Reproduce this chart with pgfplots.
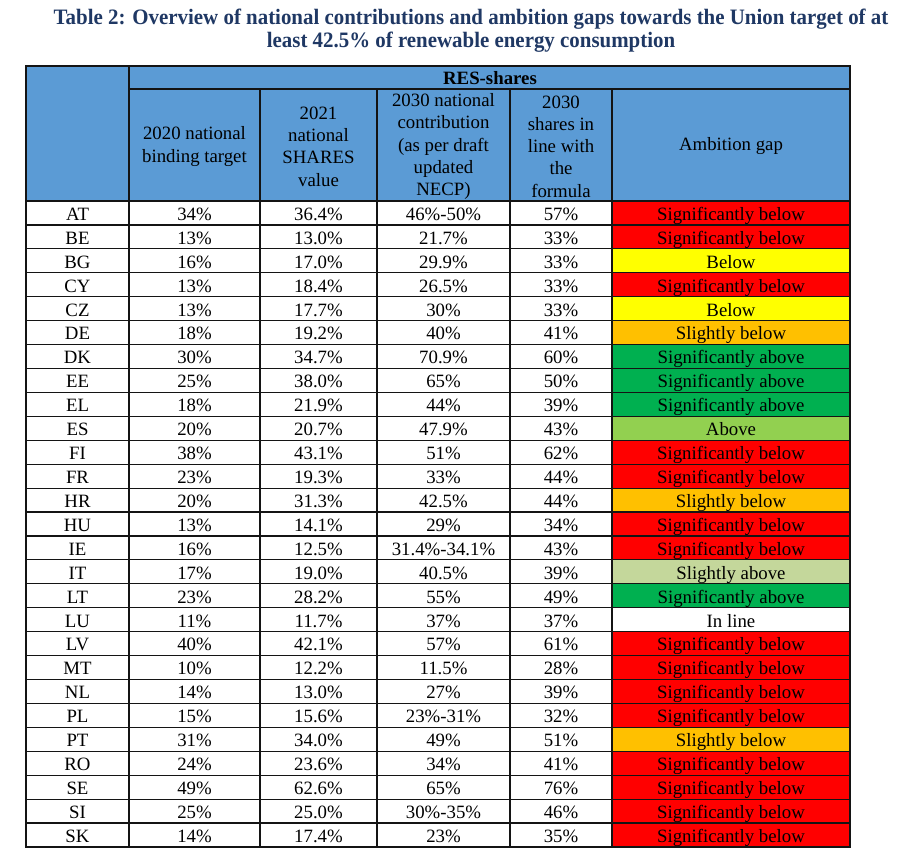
\documentclass[border=0pt]{standalone}
\usepackage{pgfplots}
\pgfplotsset{compat=1.18}
\usepackage{pgfplotstable}
\usepackage{fontspec}
\setmainfont{Liberation Serif}
\newfontfamily\cellfont{Liberation Serif}
\newfontfamily\titlefont[FakeStretch=0.95]{Liberation Serif}
\definecolor{hdr}{RGB}{91,155,213}
\definecolor{ttl}{RGB}{31,56,100}
\definecolor{grid}{RGB}{20,20,20}
\definecolor{gRed}{RGB}{255,0,0}
\definecolor{gYel}{RGB}{255,255,0}
\definecolor{gOra}{RGB}{255,192,0}
\definecolor{gGrn}{RGB}{0,176,80}
\definecolor{gLgr}{RGB}{146,208,80}
\definecolor{gPal}{RGB}{196,215,155}
\pgfplotstableread[col sep=comma]{
code,a,b,c,d,gap
AT,34\%,36.4\%,46\%-50\%,57\%,Significantly below
BE,13\%,13.0\%,21.7\%,33\%,Significantly below
BG,16\%,17.0\%,29.9\%,33\%,Below
CY,13\%,18.4\%,26.5\%,33\%,Significantly below
CZ,13\%,17.7\%,30\%,33\%,Below
DE,18\%,19.2\%,40\%,41\%,Slightly below
DK,30\%,34.7\%,70.9\%,60\%,Significantly above
EE,25\%,38.0\%,65\%,50\%,Significantly above
EL,18\%,21.9\%,44\%,39\%,Significantly above
ES,20\%,20.7\%,47.9\%,43\%,Above
FI,38\%,43.1\%,51\%,62\%,Significantly below
FR,23\%,19.3\%,33\%,44\%,Significantly below
HR,20\%,31.3\%,42.5\%,44\%,Slightly below
HU,13\%,14.1\%,29\%,34\%,Significantly below
IE,16\%,12.5\%,31.4\%-34.1\%,43\%,Significantly below
IT,17\%,19.0\%,40.5\%,39\%,Slightly above
LT,23\%,28.2\%,55\%,49\%,Significantly above
LU,11\%,11.7\%,37\%,37\%,In line
LV,40\%,42.1\%,57\%,61\%,Significantly below
MT,10\%,12.2\%,11.5\%,28\%,Significantly below
NL,14\%,13.0\%,27\%,39\%,Significantly below
PL,15\%,15.6\%,23\%-31\%,32\%,Significantly below
PT,31\%,34.0\%,49\%,51\%,Slightly below
RO,24\%,23.6\%,34\%,41\%,Significantly below
SE,49\%,62.6\%,65\%,76\%,Significantly below
SI,25\%,25.0\%,30\%-35\%,46\%,Significantly below
SK,14\%,17.4\%,23\%,35\%,Significantly below
}\data
\begin{document}
\begin{tikzpicture}
\begin{axis}[
  width=904pt, height=864pt, scale only axis,
  xmin=0, xmax=904, ymin=0, ymax=864, y dir=reverse,
  axis lines=none, ticks=none, clip=false,
  nodes near coords align={anchor=base},
  every node near coord/.append style={font=\cellfont\fontsize{18.8}{22.3}\selectfont, text=black, inner sep=0pt},
]
% page background (sets bounding box)
\fill[white] (axis cs:0,0) rectangle (axis cs:904,864);
% header background
\fill[hdr] (axis cs:26,66) rectangle (axis cs:850,201);
% ambition gap cells (row bands)
\addplot[fill=gRed, draw=none] coordinates {(612,201.00) (850,201.00) (850,248.85) (612,248.85)} --cycle;
\addplot[fill=gYel, draw=none] coordinates {(612,248.85) (850,248.85) (850,272.78) (612,272.78)} --cycle;
\addplot[fill=gRed, draw=none] coordinates {(612,272.78) (850,272.78) (850,296.70) (612,296.70)} --cycle;
\addplot[fill=gYel, draw=none] coordinates {(612,296.70) (850,296.70) (850,320.63) (612,320.63)} --cycle;
\addplot[fill=gOra, draw=none] coordinates {(612,320.63) (850,320.63) (850,344.56) (612,344.56)} --cycle;
\addplot[fill=gGrn, draw=none] coordinates {(612,344.56) (850,344.56) (850,416.33) (612,416.33)} --cycle;
\addplot[fill=gLgr, draw=none] coordinates {(612,416.33) (850,416.33) (850,440.26) (612,440.26)} --cycle;
\addplot[fill=gRed, draw=none] coordinates {(612,440.26) (850,440.26) (850,488.11) (612,488.11)} --cycle;
\addplot[fill=gOra, draw=none] coordinates {(612,488.11) (850,488.11) (850,512.04) (612,512.04)} --cycle;
\addplot[fill=gRed, draw=none] coordinates {(612,512.04) (850,512.04) (850,559.89) (612,559.89)} --cycle;
\addplot[fill=gPal, draw=none] coordinates {(612,559.89) (850,559.89) (850,583.82) (612,583.82)} --cycle;
\addplot[fill=gGrn, draw=none] coordinates {(612,583.82) (850,583.82) (850,607.74) (612,607.74)} --cycle;
\addplot[fill=gRed, draw=none] coordinates {(612,631.67) (850,631.67) (850,727.37) (612,727.37)} --cycle;
\addplot[fill=gOra, draw=none] coordinates {(612,727.37) (850,727.37) (850,751.30) (612,751.30)} --cycle;
\addplot[fill=gRed, draw=none] coordinates {(612,751.30) (850,751.30) (850,847.00) (612,847.00)} --cycle;
% cell texts (placed on the baseline of each row)
\addplot[draw=none, mark=none, nodes near coords, point meta=explicit symbolic]
  table[x expr=77.5, y expr={201+23.926*\coordindex+19.3}, meta=code]{\data};
\addplot[draw=none, mark=none, nodes near coords, point meta=explicit symbolic]
  table[x expr=194.5, y expr={201+23.926*\coordindex+19.3}, meta=a]{\data};
\addplot[draw=none, mark=none, nodes near coords, point meta=explicit symbolic]
  table[x expr=318.5, y expr={201+23.926*\coordindex+19.3}, meta=b]{\data};
\addplot[draw=none, mark=none, nodes near coords, point meta=explicit symbolic]
  table[x expr=443.5, y expr={201+23.926*\coordindex+19.3}, meta=c]{\data};
\addplot[draw=none, mark=none, nodes near coords, point meta=explicit symbolic]
  table[x expr=561, y expr={201+23.926*\coordindex+19.3}, meta=d]{\data};
\addplot[draw=none, mark=none, nodes near coords, point meta=explicit symbolic]
  table[x expr=731, y expr={201+23.926*\coordindex+19.3}, meta=gap]{\data};
% grid lines
\pgfplotsinvokeforeach{1,...,26}{
  \draw[grid, line width=1.2pt] (axis cs:26,{201+23.926*#1}) -- (axis cs:850,{201+23.926*#1});
}
\draw[grid, line width=1.6pt] (axis cs:26,201) -- (axis cs:850,201);
\draw[grid, line width=1.4pt] (axis cs:129,89) -- (axis cs:850,89);
\pgfplotsinvokeforeach{260,377,510,612}{
  \draw[grid, line width=1.4pt] (axis cs:#1,89) -- (axis cs:#1,847);
}
\draw[grid, line width=1.6pt] (axis cs:129,66) -- (axis cs:129,847);
\draw[grid, line width=2.2pt] (axis cs:26,66) rectangle (axis cs:850,847);
% header texts
\begin{scope}[every node/.style={font=\cellfont\fontsize{18.8}{22.3}\selectfont, align=center, text=black, inner sep=0pt}]
\node at (axis cs:490,78) {\bfseries RES-shares};
\node at (axis cs:194.5,146.5) {2020 national\\binding target};
\node at (axis cs:318.5,146.5) {2021\\national\\SHARES\\value};
\node at (axis cs:443.5,146.5) {2030 national\\contribution\\(as per draft\\updated\\NECP)};
\node at (axis cs:561,146.5) {2030\\shares in\\line with\\the\\formula};
\node at (axis cs:731,146.5) {Ambition gap};
\end{scope}
% title
\node[font=\titlefont\bfseries\fontsize{22}{23.3}\selectfont, text=ttl, align=center, inner sep=0pt] at (axis cs:471,31)
  {Table 2: Overview of national contributions and ambition gaps towards the Union target of at\\least 42.5\% of renewable energy consumption};
\end{axis}
\end{tikzpicture}
\end{document}
